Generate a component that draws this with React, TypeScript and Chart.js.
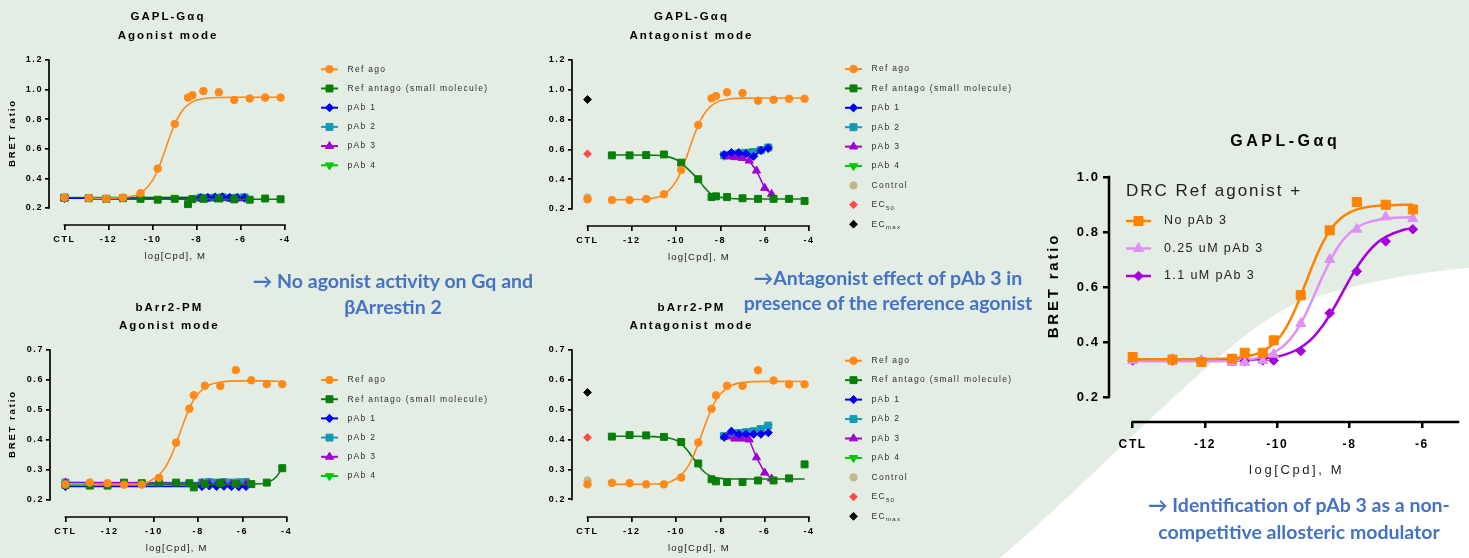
import React, { useEffect, useRef } from 'react';
import { Chart, registerables } from 'chart.js';
import { drawPoint } from 'chart.js/helpers';

Chart.register(...registerables);

const FONT = '"Liberation Sans", Arial, Helvetica, sans-serif';
Chart.defaults.font.family = FONT;

// ---------------- data ----------------
const CTL_X = -14; // position of the "CTL" (control) column on the log axis
const X_TICKS_SMALL = [-14, -12, -10, -8, -6, -4];
const X_TICKS_BIG = [-14, -12, -10, -8, -6];
const Y_TICKS_GQ = [0.2, 0.4, 0.6, 0.8, 1.0, 1.2];
const Y_TICKS_BARR = [0.2, 0.3, 0.4, 0.5, 0.6, 0.7];
const Y_TICKS_BIG = [0.2, 0.4, 0.6, 0.8, 1.0];

// log concentrations of reference compounds, pAbs and fitted curve samples
const REF_X = [-12.9, -12.1, -11.35, -10.55, -9.77, -9.0, -8.4, -8.2, -7.7, -7.0, -6.3, -5.6, -4.9, -4.2];
const PAB_X = [-7.83, -7.5, -7.17, -6.84, -6.5, -6.17, -5.84];
const PAB3_X = [-7.7, -7.35, -7.02, -6.7, -6.37, -6.0, -5.69];
const FIT_X = [-12.9, -12, -11, -10.5, -10, -9.75, -9.5, -9.25, -9, -8.75, -8.5, -8.25, -8, -7.5, -7, -6, -5, -4.2];

// GAPL-Gaq agonist mode
const GQA_REF_AGO_CTL = 0.27;
const GQA_REF_AGO = [0.267, 0.263, 0.27, 0.3, 0.466, 0.768, 0.946, 0.962, 0.99, 0.982, 0.93, 0.94, 0.946, 0.946];
const GQA_REF_ANTAGO_CTL = 0.27;
const GQA_REF_ANTAGO = [0.266, 0.262, 0.266, 0.262, 0.256, 0.262, 0.226, 0.26, 0.262, 0.264, 0.258, 0.256, 0.264, 0.259];
const GQA_AGO_FIT = [0.265, 0.266, 0.277, 0.305, 0.388, 0.464, 0.563, 0.671, 0.766, 0.837, 0.884, 0.912, 0.929, 0.943, 0.947, 0.948, 0.948, 0.948];
const GQA_ANTAGO_FIT_X = [-12.9, -4.2];
const GQA_ANTAGO_FIT = [0.26, 0.259];
const GQA_PAB_CTL = [0.265, 0.268, 0.265, 0.27];
const GQA_PAB1 = [0.268, 0.27, 0.272, 0.275, 0.27, 0.268, 0.27];
const GQA_PAB2 = [0.27, 0.268, 0.27, 0.272, 0.268, 0.27, 0.272];
const GQA_PAB3 = [0.265, 0.266, 0.27, 0.268, 0.265, 0.266, 0.265];
const GQA_PAB4 = [0.272, 0.27, 0.268, 0.27, 0.274, 0.27, 0.268];

// GAPL-Gaq antagonist mode
const GQN_REF_AGO_CTL = 0.265;
const GQN_REF_AGO = [0.26, 0.26, 0.267, 0.299, 0.462, 0.764, 0.943, 0.958, 0.983, 0.978, 0.927, 0.933, 0.94, 0.94];
const GQN_REF_ANTAGO = [0.56, 0.56, 0.562, 0.566, 0.511, 0.4, 0.28, 0.285, 0.28, 0.272, 0.268, 0.268, 0.268, 0.254];
const GQN_AGO_FIT = [0.262, 0.263, 0.274, 0.302, 0.385, 0.461, 0.56, 0.668, 0.763, 0.834, 0.881, 0.909, 0.926, 0.94, 0.944, 0.945, 0.945, 0.945];
const GQN_ANTAGO_FIT = [0.562, 0.562, 0.561, 0.555, 0.532, 0.506, 0.473, 0.437, 0.398, 0.35, 0.31, 0.288, 0.278, 0.27, 0.268, 0.267, 0.267, 0.267];
const GQN_PAB1 = [0.565, 0.578, 0.578, 0.571, 0.553, 0.593, 0.609];
const GQN_PAB2 = [0.56, 0.565, 0.57, 0.575, 0.58, 0.595, 0.613];
const GQN_PAB3 = [0.552, 0.547, 0.542, 0.524, 0.457, 0.341, 0.3];
const GQN_PAB4 = [0.558, 0.572, 0.58, 0.585, 0.59, 0.6, 0.607];
const GQN_CONTROL = 0.278;
const GQN_EC50 = 0.57;
const GQN_ECMAX = 0.935;

// bArr2-PM agonist mode
const BAA_REF_AGO_CTL = 0.252;
const BAA_REF_AGO = [0.258, 0.256, 0.251, 0.251, 0.274, 0.391, 0.504, 0.549, 0.581, 0.58, 0.633, 0.599, 0.586, 0.586];
const BAA_REF_ANTAGO_CTL = 0.25;
const BAA_REF_ANTAGO = [0.248, 0.248, 0.258, 0.256, 0.258, 0.258, 0.256, 0.242, 0.253, 0.256, 0.253, 0.253, 0.258, 0.306];
const BAA_AGO_FIT = [0.252, 0.252, 0.253, 0.254, 0.271, 0.285, 0.308, 0.342, 0.388, 0.439, 0.488, 0.528, 0.555, 0.583, 0.593, 0.597, 0.597, 0.595];
const BAA_ANTAGO_FIT_X = [-12.9, -6, -5.5, -5, -4.75, -4.5, -4.2];
const BAA_ANTAGO_FIT = [0.252, 0.252, 0.253, 0.256, 0.262, 0.275, 0.305];
const BAA_PAB_CTL = [0.245, 0.258, 0.258, 0.25];
const BAA_PAB1 = [0.245, 0.247, 0.245, 0.246, 0.245, 0.244, 0.245];
const BAA_PAB2 = [0.258, 0.26, 0.258, 0.26, 0.258, 0.259, 0.26];
const BAA_PAB3 = [0.256, 0.254, 0.252, 0.255, 0.253, 0.252, 0.254];
const BAA_PAB4 = [0.252, 0.25, 0.254, 0.252, 0.25, 0.253, 0.252];

// bArr2-PM antagonist mode
const BAN_REF_AGO_CTL = 0.25;
const BAN_REF_AGO = [0.255, 0.254, 0.25, 0.25, 0.273, 0.39, 0.503, 0.548, 0.58, 0.58, 0.632, 0.598, 0.585, 0.585];
const BAN_REF_ANTAGO = [0.41, 0.415, 0.414, 0.409, 0.392, 0.32, 0.267, 0.26, 0.258, 0.258, 0.263, 0.263, 0.27, 0.317];
const BAN_AGO_FIT = [0.25, 0.25, 0.251, 0.253, 0.269, 0.283, 0.306, 0.34, 0.386, 0.437, 0.486, 0.526, 0.553, 0.581, 0.591, 0.595, 0.595, 0.594];
const BAN_ANTAGO_FIT = [0.411, 0.411, 0.41, 0.407, 0.398, 0.385, 0.365, 0.34, 0.315, 0.293, 0.28, 0.273, 0.27, 0.268, 0.268, 0.268, 0.268, 0.268];
const BAN_PAB1 = [0.408, 0.428, 0.418, 0.418, 0.418, 0.418, 0.423];
const BAN_PAB2 = [0.412, 0.418, 0.422, 0.425, 0.428, 0.435, 0.447];
const BAN_PAB3 = [0.41, 0.403, 0.403, 0.4, 0.34, 0.289, 0.269];
const BAN_PAB4 = [0.41, 0.415, 0.42, 0.423, 0.428, 0.438, 0.443];
const BAN_CONTROL = 0.263;
const BAN_EC50 = 0.407;
const BAN_ECMAX = 0.558;

// Big chart: DRC of reference agonist with pAb 3
const BIG_X = [-12.9, -12.1, -11.25, -10.9, -10.4, -10.1, -9.35, -8.55, -7.8, -7.0, -6.25];
const BIG_FIT_X = [-14, -13, -12, -11, -10.5, -10, -9.75, -9.5, -9.25, -9, -8.75, -8.5, -8.25, -8, -7.75, -7.5, -7.25, -7, -6.5, -6.25];
const BIG_NOPAB_CTL = 0.345;
const BIG_NOPAB = [0.336, 0.327, 0.339, 0.361, 0.361, 0.406, 0.57, 0.806, 0.909, 0.899, 0.882];
const BIG_P025_CTL = 0.332;
const BIG_P025 = [0.338, 0.334, 0.325, 0.326, 0.332, 0.355, 0.467, 0.7, 0.81, 0.855, 0.849];
const BIG_P11_CTL = 0.333;
const BIG_P11 = [0.333, 0.333, 0.33, 0.33, 0.333, 0.333, 0.367, 0.505, 0.657, 0.766, 0.81];
const BIG_NOPAB_FIT = [0.337, 0.337, 0.338, 0.344, 0.36, 0.407, 0.454, 0.52, 0.602, 0.686, 0.759, 0.814, 0.849, 0.871, 0.884, 0.891, 0.895, 0.897, 0.899, 0.9];
const BIG_P025_FIT = [0.33, 0.33, 0.33, 0.334, 0.343, 0.369, 0.395, 0.435, 0.492, 0.563, 0.637, 0.705, 0.759, 0.796, 0.82, 0.835, 0.843, 0.849, 0.853, 0.854];
const BIG_P11_FIT = [0.333, 0.333, 0.333, 0.335, 0.338, 0.347, 0.356, 0.369, 0.389, 0.418, 0.458, 0.509, 0.567, 0.627, 0.681, 0.725, 0.759, 0.782, 0.808, 0.814];

// ---------------- styles ----------------
const ORANGE = '#ff8a1a';
const GREEN = '#0a7e0a';
const BLUE = '#0000f5';
const TEAL = '#1699b4';
const PURPLE = '#a000d4';
const LIME = '#00c800';
const TAN = '#c4b68c';
const RED = '#ff4a4a';
const BLACK = '#000000';
const BIG_ORANGE = '#ff8200';
const LAVENDER = '#de90f4';
const BIG_PURPLE = '#a600dc';

const pts = (xs: number[], ys: number[]) => xs.map((x, i) => ({ x, y: ys[i] }));
const withCtl = (ctl: number, xs: number[], ys: number[]) => [{ x: CTL_X, y: ctl }, ...pts(xs, ys)];

function marks(label: string, color: string, style: string, r: number, data: any[], extra: any = {}) {
  return {
    label,
    legendText: label,
    legendLine: true,
    data,
    showLine: false,
    pointStyle: style,
    pointRadius: r,
    pointBackgroundColor: color,
    pointBorderColor: color,
    pointBorderWidth: 1,
    borderColor: color,
    backgroundColor: color,
    borderWidth: 1.5,
    clip: false,
    ...extra,
  };
}

function curve(color: string, data: any[], width: number, order: number) {
  return {
    data,
    showLine: true,
    pointRadius: 0,
    borderColor: color,
    backgroundColor: color,
    borderWidth: width,
    cubicInterpolationMode: 'monotone',
    order,
    clip: false,
  };
}

function smallSets(o: {
  agoCtl: number; ago: number[]; antagoCtl?: number; antago: number[];
  agoFit: number[]; antagoFitX: number[]; antagoFit: number[];
  pabCtl?: number[]; pab: number[][]; controls?: number[];
}) {
  const pabData = (i: number, xs: number[]) =>
    o.pabCtl ? withCtl(o.pabCtl[i], xs, o.pab[i]) : pts(xs, o.pab[i]);
  const sets: any[] = [
    marks('Ref ago', ORANGE, 'circle', 3.8, withCtl(o.agoCtl, REF_X, o.ago), { order: 0 }),
    marks('Ref antago (small molecule)', GREEN, 'rect', 4.9,
      o.antagoCtl !== undefined ? withCtl(o.antagoCtl, REF_X, o.antago) : pts(REF_X, o.antago), { order: 1 }),
    marks('pAb 1', BLUE, 'rectRot', 4.1, pabData(0, PAB_X), { showLine: true, order: 4 }),
    marks('pAb 2', TEAL, 'rect', 4.9, pabData(1, PAB_X), { showLine: true, order: 6 }),
    marks('pAb 3', PURPLE, 'triangle', 4.7, pabData(2, o.pabCtl ? PAB_X : PAB3_X), { showLine: true, order: 5 }),
    marks('pAb 4', LIME, 'triangle', 4.7, pabData(3, PAB_X), { showLine: true, order: 7, pointRotation: 180 }),
  ];
  if (o.controls) {
    sets.push(marks('Control', TAN, 'circle', 3.7, [{ x: CTL_X, y: o.controls[0] }], { order: 8, legendLine: false }));
    sets.push(marks('EC50', RED, 'rectRot', 3.9, [{ x: CTL_X, y: o.controls[1] }], { order: 9, legendLine: false, legendText: 'EC', legendSub: '50' }));
    sets.push(marks('ECmax', BLACK, 'rectRot', 3.9, [{ x: CTL_X, y: o.controls[2] }], { order: 10, legendLine: false, legendText: 'EC', legendSub: 'max' }));
  }
  sets.push(curve(ORANGE, pts(FIT_X, o.agoFit), 1.6, 2));
  sets.push(curve(GREEN, pts(o.antagoFitX, o.antagoFit), 1.6, 3));
  return sets;
}

// ---------------- chart spec ----------------
interface TextSpec { text: string; x?: number; y?: number; size: number; spacing: number; weight?: string; color?: string; }
interface Spec {
  left: number; top: number; width: number; height: number;
  area: { left: number; top: number; right: number; bottom: number };
  xMin: number; xMax: number; yMin: number; yMax: number;
  xTicks: number[]; yTicks: number[]; xAxisTo: number;
  xTickFont: number; yTickFont: number; tickSpacing: number;
  xTickLen: number; yTickLen: number; xTickPad: number; yTickPad: number;
  axisWidth: number;
  titles: TextSpec[];
  yTitle?: TextSpec;
  xTitle: TextSpec;
  legend: { x0: number; x1: number; textX: number; y: number; dy: number; size: number; spacing: number; color: string; lineWidth: number; header?: TextSpec };
  datasets: any[];
}

function drawText(ctx: any, t: TextSpec, x: number, y: number, align: string) {
  ctx.save();
  ctx.font = `${t.weight || 'normal'} ${t.size}px ${FONT}`;
  ctx.letterSpacing = `${t.spacing}px`;
  ctx.fillStyle = t.color || '#000';
  ctx.textAlign = align;
  ctx.textBaseline = 'middle';
  const dx = align === 'center' ? t.spacing / 2 : 0;
  ctx.fillText(t.text, x + dx, y);
  ctx.restore();
}

function makePlugin(spec: Spec) {
  return {
    id: 'prism',
    beforeDraw(chart: any) {
      chart.ctx.letterSpacing = `${spec.tickSpacing}px`;
    },
    beforeDatasetsDraw(chart: any) {
      const { ctx, chartArea: a, scales } = chart;
      const w = spec.axisWidth;
      ctx.save();
      ctx.strokeStyle = '#000';
      ctx.lineWidth = w;
      const yTop = scales.y.getPixelForValue(spec.yTicks[spec.yTicks.length - 1]);
      const yBot = scales.y.getPixelForValue(spec.yTicks[0]);
      ctx.beginPath();
      ctx.moveTo(a.left, yTop - w / 2);
      ctx.lineTo(a.left, yBot + w / 2);
      ctx.stroke();
      const x0 = scales.x.getPixelForValue(CTL_X);
      const x1 = scales.x.getPixelForValue(spec.xAxisTo);
      ctx.beginPath();
      ctx.moveTo(x0 - w / 2, a.bottom);
      ctx.lineTo(x1 + w / 2, a.bottom);
      ctx.stroke();
      ctx.restore();
    },
    afterDraw(chart: any) {
      const { ctx, chartArea: a, scales } = chart;
      const cx = (a.left + a.right) / 2;
      spec.titles.forEach((t) => drawText(ctx, t, cx, t.y!, 'center'));
      const x0 = scales.x.getPixelForValue(CTL_X);
      const x1 = scales.x.getPixelForValue(spec.xAxisTo);
      drawText(ctx, spec.xTitle, (x0 + x1) / 2, spec.xTitle.y!, 'center');
      if (spec.yTitle) {
        const yTop = scales.y.getPixelForValue(spec.yTicks[spec.yTicks.length - 1]);
        const yBot = scales.y.getPixelForValue(spec.yTicks[0]);
        ctx.save();
        ctx.translate(spec.yTitle.x!, (yTop + yBot) / 2);
        ctx.rotate(-Math.PI / 2);
        drawText(ctx, spec.yTitle, 0, 0, 'center');
        ctx.restore();
      }
      const L = spec.legend;
      if (L.header) drawText(ctx, L.header, L.header.x!, L.header.y!, 'left');
      const items = chart.data.datasets.filter((d: any) => d.legendText);
      items.forEach((d: any, i: number) => {
        const cy = L.y + i * L.dy;
        const mx = (L.x0 + L.x1) / 2;
        ctx.save();
        if (d.legendLine) {
          ctx.strokeStyle = d.borderColor;
          ctx.lineWidth = L.lineWidth;
          ctx.beginPath();
          ctx.moveTo(L.x0, cy);
          ctx.lineTo(L.x1, cy);
          ctx.stroke();
        }
        ctx.fillStyle = d.pointBackgroundColor;
        ctx.strokeStyle = d.pointBorderColor;
        ctx.lineWidth = 1;
        drawPoint(ctx, { pointStyle: d.pointStyle, rotation: d.pointRotation || 0, radius: d.pointRadius, borderWidth: 1 } as any, mx, cy);
        ctx.font = `${L.size}px ${FONT}`;
        ctx.letterSpacing = `${L.spacing}px`;
        ctx.fillStyle = L.color;
        ctx.textAlign = 'left';
        ctx.textBaseline = 'middle';
        ctx.fillText(d.legendText, L.textX, cy);
        if (d.legendSub) {
          const tw = ctx.measureText(d.legendText).width;
          ctx.font = `${L.size * 0.72}px ${FONT}`;
          ctx.fillText(d.legendSub, L.textX + tw, cy + L.size * 0.4);
        }
        ctx.restore();
      });
    },
  };
}

function PrismChart({ spec }: { spec: Spec }) {
  const ref = useRef<HTMLCanvasElement>(null);
  useEffect(() => {
    const a = spec.area;
    const chart = new Chart(ref.current as HTMLCanvasElement, {
      type: 'scatter',
      data: { datasets: spec.datasets },
      options: {
        animation: false,
        responsive: false,
        maintainAspectRatio: false,
        layout: { padding: { left: 0, top: a.top, right: spec.width - a.right, bottom: 0 } },
        plugins: { legend: { display: false }, title: { display: false }, tooltip: { enabled: false } },
        scales: {
          x: {
            type: 'linear',
            min: spec.xMin,
            max: spec.xMax,
            afterBuildTicks: (s: any) => { s.ticks = spec.xTicks.map((v) => ({ value: v })); },
            afterFit: (s: any) => { s.height = spec.height - a.bottom; },
            ticks: {
              autoSkip: false, maxRotation: 0, minRotation: 0,
              padding: spec.xTickPad,
              color: '#000',
              font: { size: spec.xTickFont, weight: 'bold', family: FONT },
              callback: (v: any) => (Number(v) === CTL_X ? 'CTL' : String(v)),
            },
            grid: { display: true, drawOnChartArea: false, drawTicks: true, tickLength: spec.xTickLen, color: '#000', lineWidth: spec.axisWidth },
            border: { display: false },
          },
          y: {
            type: 'linear',
            min: spec.yMin,
            max: spec.yMax,
            afterBuildTicks: (s: any) => { s.ticks = spec.yTicks.map((v) => ({ value: v })); },
            afterFit: (s: any) => { s.width = a.left; },
            ticks: {
              padding: spec.yTickPad,
              color: '#000',
              font: { size: spec.yTickFont, weight: 'bold', family: FONT },
              callback: (v: any) => Number(v).toFixed(1),
            },
            grid: { display: true, drawOnChartArea: false, drawTicks: true, tickLength: spec.yTickLen, color: '#000', lineWidth: spec.axisWidth },
            border: { display: false },
          },
        },
      } as any,
      plugins: [makePlugin(spec) as any],
    });
    return () => chart.destroy();
  }, []);
  return (
    <canvas
      ref={ref}
      width={spec.width}
      height={spec.height}
      style={{ position: 'absolute', left: spec.left, top: spec.top, width: spec.width, height: spec.height }}
    />
  );
}

const SMALL_COMMON = {
  xMin: -14.7, xMax: -4, xTicks: X_TICKS_SMALL, xAxisTo: -4,
  xTickFont: 9, yTickFont: 9, tickSpacing: 1.6,
  xTickLen: 5, yTickLen: 4, xTickPad: 4.2, yTickPad: 2, axisWidth: 1.7,
};
const smallTitles = (l1: string, l2: string, y1: number, y2: number): TextSpec[] => [
  { text: l1, y: y1, size: 11.5, spacing: 2, weight: 'bold', color: '#000' },
  { text: l2, y: y2, size: 11.5, spacing: 2, weight: 'bold', color: '#000' },
];
const xTitleSmall = (y: number): TextSpec => ({ text: 'log[Cpd], M', y, size: 9.5, spacing: 1.2, color: '#222' });
const yTitleSmall: TextSpec = { text: 'BRET ratio', x: 12, size: 9.5, spacing: 1.9, weight: 'bold', color: '#000' };
const legendSmall = (x0: number, y: number, dy: number) => ({
  x0, x1: x0 + 17, textX: x0 + 26.5, y, dy, size: 8.5, spacing: 1.3, color: '#2e2e2e', lineWidth: 2,
});

const SPEC_GQ_AGO: Spec = {
  ...SMALL_COMMON,
  left: 0, top: 0, width: 540, height: 270,
  area: { left: 49, top: 60, right: 285, bottom: 225 },
  yMin: 0.085, yMax: 1.2, yTicks: Y_TICKS_GQ,
  titles: smallTitles('GAPL-G\u03b1q', 'Agonist mode', 16.5, 35.5),
  yTitle: yTitleSmall,
  xTitle: xTitleSmall(256),
  legend: legendSmall(321, 69.3, 19.2),
  datasets: smallSets({
    agoCtl: GQA_REF_AGO_CTL, ago: GQA_REF_AGO, antagoCtl: GQA_REF_ANTAGO_CTL, antago: GQA_REF_ANTAGO,
    agoFit: GQA_AGO_FIT, antagoFitX: GQA_ANTAGO_FIT_X, antagoFit: GQA_ANTAGO_FIT,
    pabCtl: GQA_PAB_CTL, pab: [GQA_PAB1, GQA_PAB2, GQA_PAB3, GQA_PAB4],
  }),
};

const SPEC_GQ_ANT: Spec = {
  ...SMALL_COMMON,
  left: 540, top: 0, width: 490, height: 270,
  area: { left: 32, top: 60, right: 269, bottom: 226 },
  yMin: 0.0859, yMax: 1.2, yTicks: Y_TICKS_GQ,
  titles: smallTitles('GAPL-G\u03b1q', 'Antagonist mode', 16.5, 35.5),
  xTitle: xTitleSmall(257),
  legend: legendSmall(305, 69, 19.4),
  datasets: smallSets({
    agoCtl: GQN_REF_AGO_CTL, ago: GQN_REF_AGO, antago: GQN_REF_ANTAGO,
    agoFit: GQN_AGO_FIT, antagoFitX: FIT_X, antagoFit: GQN_ANTAGO_FIT,
    pab: [GQN_PAB1, GQN_PAB2, GQN_PAB3, GQN_PAB4],
    controls: [GQN_CONTROL, GQN_EC50, GQN_ECMAX],
  }),
};

const SPEC_BA_AGO: Spec = {
  ...SMALL_COMMON,
  left: 0, top: 290, width: 540, height: 268,
  area: { left: 50, top: 60, right: 286.7, bottom: 227 },
  yMin: 0.1433, yMax: 0.7, yTicks: Y_TICKS_BARR,
  titles: smallTitles('bArr2-PM', 'Agonist mode', 17.5, 36.3),
  yTitle: yTitleSmall,
  xTitle: xTitleSmall(258),
  legend: legendSmall(321, 90, 19.2),
  datasets: smallSets({
    agoCtl: BAA_REF_AGO_CTL, ago: BAA_REF_AGO, antagoCtl: BAA_REF_ANTAGO_CTL, antago: BAA_REF_ANTAGO,
    agoFit: BAA_AGO_FIT, antagoFitX: BAA_ANTAGO_FIT_X, antagoFit: BAA_ANTAGO_FIT,
    pabCtl: BAA_PAB_CTL, pab: [BAA_PAB1, BAA_PAB2, BAA_PAB3, BAA_PAB4],
  }),
};

const SPEC_BA_ANT: Spec = {
  ...SMALL_COMMON,
  left: 540, top: 290, width: 490, height: 268,
  area: { left: 32, top: 60, right: 269, bottom: 227 },
  yMin: 0.1407, yMax: 0.7, yTicks: Y_TICKS_BARR,
  titles: smallTitles('bArr2-PM', 'Antagonist mode', 17.5, 36.3),
  xTitle: xTitleSmall(258.3),
  legend: legendSmall(305, 70.7, 19.45),
  datasets: smallSets({
    agoCtl: BAN_REF_AGO_CTL, ago: BAN_REF_AGO, antago: BAN_REF_ANTAGO,
    agoFit: BAN_AGO_FIT, antagoFitX: FIT_X, antagoFit: BAN_ANTAGO_FIT,
    pab: [BAN_PAB1, BAN_PAB2, BAN_PAB3, BAN_PAB4],
    controls: [BAN_CONTROL, BAN_EC50, BAN_ECMAX],
  }),
};

const SPEC_BIG: Spec = {
  left: 1030, top: 100, width: 439, height: 400,
  area: { left: 79, top: 77, right: 428, bottom: 322 },
  xMin: -14.655, xMax: -5, yMin: 0.109, yMax: 1.0,
  xTicks: X_TICKS_BIG, yTicks: Y_TICKS_BIG, xAxisTo: -5,
  xTickFont: 12, yTickFont: 13, tickSpacing: 1.6,
  xTickLen: 6, yTickLen: 6, xTickPad: 9.5, yTickPad: 3.5, axisWidth: 2.5,
  titles: [{ text: 'GAPL-G\u03b1q', y: 42, size: 16, spacing: 3.5, weight: 'bold', color: '#000' }],
  yTitle: { text: 'BRET ratio', x: 24, size: 15, spacing: 2.8, weight: 'bold', color: '#000' },
  xTitle: { text: 'log[Cpd], M', y: 370, size: 13, spacing: 2.6, color: '#222' },
  legend: {
    x0: 96, x1: 121, textX: 134, y: 121, dy: 27.5, size: 12.5, spacing: 1.4, color: '#222', lineWidth: 2.5,
    header: { text: 'DRC Ref agonist +', x: 96, y: 91, size: 17, spacing: 2, color: '#222' },
  },
  datasets: [
    marks('No pAb 3', BIG_ORANGE, 'rect', 6.4, withCtl(BIG_NOPAB_CTL, BIG_X, BIG_NOPAB), { order: 0 }),
    marks('0.25 uM pAb 3', LAVENDER, 'triangle', 5.8, withCtl(BIG_P025_CTL, BIG_X, BIG_P025), { order: 1 }),
    marks('1.1 uM pAb 3', BIG_PURPLE, 'rectRot', 4.8, withCtl(BIG_P11_CTL, BIG_X, BIG_P11), { order: 2 }),
    curve(BIG_ORANGE, pts(BIG_FIT_X, BIG_NOPAB_FIT), 2.5, 3),
    curve(LAVENDER, pts(BIG_FIT_X, BIG_P025_FIT), 2.5, 4),
    curve(BIG_PURPLE, pts(BIG_FIT_X, BIG_P11_FIT), 2.5, 5),
  ],
};

const NOTE_STYLE: React.CSSProperties = {
  position: 'absolute',
  color: '#4472c4',
  fontFamily: 'Lato, "Open Sans", sans-serif',
  fontWeight: 700,
  fontSize: 19.5,
  textAlign: 'center',
  whiteSpace: 'nowrap',
  pointerEvents: 'none',
};

export default function App() {
  return (
    <div
      style={{
        position: 'absolute', left: 0, top: 0, width: 1469, height: 558,
        overflow: 'hidden', background: '#e3ede4',
      }}
    >
      <div
        style={{
          position: 'absolute', left: 0, top: 0, width: 1469, height: 558, background: '#ffffff',
          clipPath: "path('M 1000 558 C 1120 455, 1230 330, 1300 302 C 1360 282, 1420 272, 1469 268 L 1469 558 Z')",
        }}
      />
      <PrismChart spec={SPEC_GQ_AGO} />
      <PrismChart spec={SPEC_GQ_ANT} />
      <PrismChart spec={SPEC_BA_AGO} />
      <PrismChart spec={SPEC_BA_ANT} />
      <PrismChart spec={SPEC_BIG} />
      <div style={{ ...NOTE_STYLE, left: 193, top: 268, width: 400, lineHeight: '26px' }}>
        {'\u2192 No agonist activity on Gq and'}<br />{'\u03b2Arrestin 2'}
      </div>
      <div style={{ ...NOTE_STYLE, left: 688, top: 265, width: 400, lineHeight: '25px' }}>
        {'\u2192Antagonist effect of pAb 3 in'}<br />{'presence of the reference agonist'}
      </div>
      <div style={{ ...NOTE_STYLE, left: 1099, top: 491, width: 400, lineHeight: '27px' }}>
        {'\u2192 Identification of pAb 3 as a non-'}<br />{'competitive allosteric modulator'}
      </div>
    </div>
  );
}
